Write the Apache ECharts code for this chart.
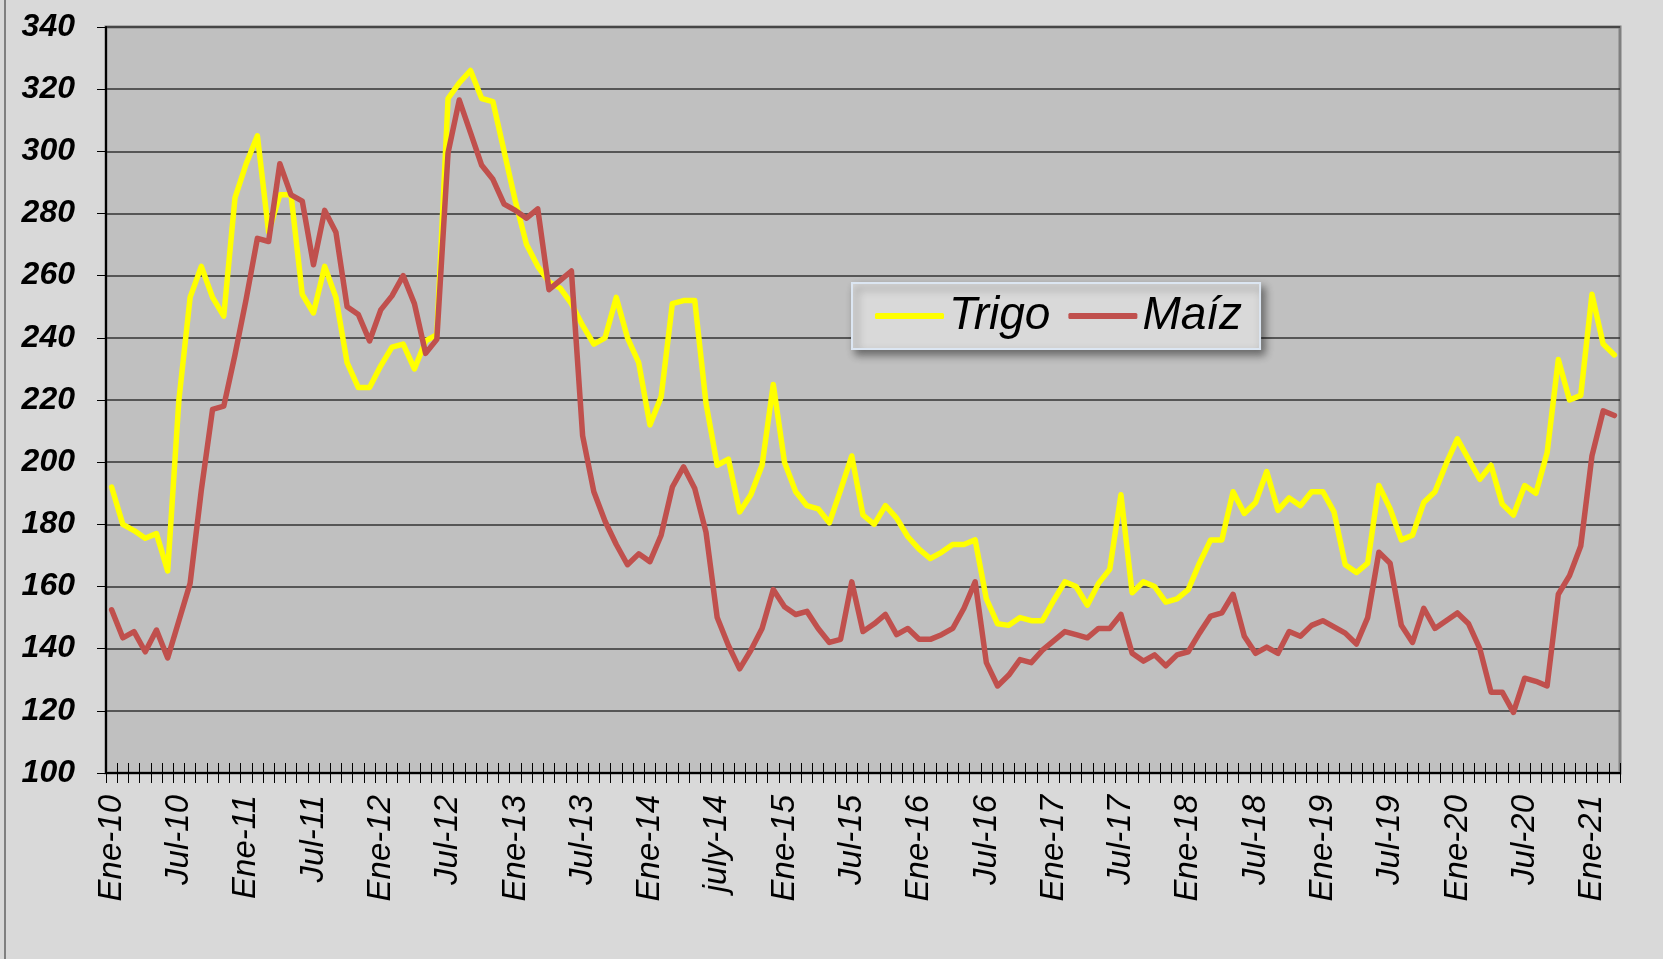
<!DOCTYPE html>
<html>
<head>
<meta charset="utf-8">
<title>Trigo y Maíz</title>
<script src="https://cdn.jsdelivr.net/npm/echarts@6/dist/echarts.min.js"></script>
<style>
  html, body { margin: 0; padding: 0; background: #d9d9d9; }
  #chart { width: 1663px; height: 959px; }
</style>
</head>
<body>
<div id="chart"></div>
<script>
// meses de Ene-10 a Mar-21 (solo se rotula uno de cada seis)
var categorias = [
  'Ene-10','Feb-10','Mar-10','Abr-10','May-10','Jun-10','Jul-10','Ago-10','Sep-10','Oct-10','Nov-10','Dic-10',
  'Ene-11','Feb-11','Mar-11','Abr-11','May-11','Jun-11','Jul-11','Ago-11','Sep-11','Oct-11','Nov-11','Dic-11',
  'Ene-12','Feb-12','Mar-12','Abr-12','May-12','Jun-12','Jul-12','Ago-12','Sep-12','Oct-12','Nov-12','Dic-12',
  'Ene-13','Feb-13','Mar-13','Abr-13','May-13','Jun-13','Jul-13','Ago-13','Sep-13','Oct-13','Nov-13','Dic-13',
  'Ene-14','Feb-14','Mar-14','Abr-14','May-14','Jun-14','july-14','Ago-14','Sep-14','Oct-14','Nov-14','Dic-14',
  'Ene-15','Feb-15','Mar-15','Abr-15','May-15','Jun-15','Jul-15','Ago-15','Sep-15','Oct-15','Nov-15','Dic-15',
  'Ene-16','Feb-16','Mar-16','Abr-16','May-16','Jun-16','Jul-16','Ago-16','Sep-16','Oct-16','Nov-16','Dic-16',
  'Ene-17','Feb-17','Mar-17','Abr-17','May-17','Jun-17','Jul-17','Ago-17','Sep-17','Oct-17','Nov-17','Dic-17',
  'Ene-18','Feb-18','Mar-18','Abr-18','May-18','Jun-18','Jul-18','Ago-18','Sep-18','Oct-18','Nov-18','Dic-18',
  'Ene-19','Feb-19','Mar-19','Abr-19','May-19','Jun-19','Jul-19','Ago-19','Sep-19','Oct-19','Nov-19','Dic-19',
  'Ene-20','Feb-20','Mar-20','Abr-20','May-20','Jun-20','Jul-20','Ago-20','Sep-20','Oct-20','Nov-20','Dic-20',
  'Ene-21','Feb-21','Mar-21'
]

var trigo = [
  192, 180, 178, 175.5, 177, 165, 220, 253, 263, 253, 247, 285,
  296, 305, 274, 286, 286, 254, 248, 263, 253, 232, 224, 224,
  231, 237, 238, 230, 239, 241, 317, 322, 326, 317, 316, 300,
  284, 270, 263, 258, 256, 251, 244, 238, 240, 253, 240, 232,
  212, 221, 251, 252, 252, 219, 199, 201, 184, 189.5, 199, 225,
  200, 190.5, 186, 185, 180.5, 191, 202, 183, 180, 186, 182, 176,
  172, 169, 171, 173.5, 173.5, 175, 156, 148, 147.5, 150, 149, 149,
  155.5, 161.5, 160, 154, 161, 165.5, 189.5, 158, 161.5, 160, 155, 156,
  159, 167.5, 175, 175, 190.5, 183.5, 187, 197, 184.5, 188.5, 186, 190.5,
  190.5, 184, 167, 164.5, 167.5, 192.5, 185, 175, 176.5, 187, 190.5, 199.5,
  207.5, 201, 194.5, 199, 186.5, 183, 192.5, 190, 203, 233, 220, 221.5,
  254, 238, 234.5
]

var maiz = [
  152.5, 143.5, 145.5, 139, 146, 137, 149, 161, 191, 217, 218, 234.5,
  252.5, 272, 271, 296, 286, 284, 263.5, 281, 274, 250, 247.5, 239,
  249, 253.5, 260, 251, 235, 239.5, 299.5, 316.5, 306, 295.5, 291, 283,
  281, 278.5, 281.5, 255.5, 258.5, 261.5, 208.5, 190.5, 181, 173.5, 167, 170.5,
  168, 176.5, 192, 198.5, 191.5, 177.5, 150, 141, 133.5, 139.5, 146.5, 159,
  153.5, 151, 152, 146.5, 142, 143, 161.5, 145.5, 148, 151, 144.5, 146.5,
  143, 143, 144.5, 146.5, 153, 161.5, 135.5, 128, 131.5, 136.5, 135.5, 139.5,
  142.5, 145.5, 144.5, 143.5, 146.5, 146.5, 151, 138.5, 136, 138, 134.5, 138,
  139, 145, 150.5, 151.5, 157.5, 144, 138.5, 140.5, 138.5, 145.5, 144, 147.5,
  149, 147, 145, 141.5, 150, 171, 167.5, 147.5, 142, 153, 146.5, 149,
  151.5, 148, 140, 126, 126, 119.5, 130.5, 129.5, 128, 157.5, 163.5, 173,
  202, 216.5, 215
]

var fuente = '"Liberation Sans", Arial, sans-serif'

var chart = echarts.init(document.getElementById('chart'))

var option = {
  animation: false,
  backgroundColor: '#d9d9d9',
  color: ['#ffff00', '#c0504d'],
  // borde izquierdo del área del gráfico
  graphic: [
    {
      type: 'line',
      shape: { x1: 5, y1: 0, x2: 5, y2: 959 },
      style: { stroke: '#808080', lineWidth: 2 }
    }
  ],
  grid: {
    left: 106,
    top: 27,
    right: 43,
    bottom: 186,
    show: true,
    backgroundColor: '#c0c0c0',
    borderColor: '#808080',
    borderWidth: 3
  },
  legend: {
    data: ['Trigo', 'Maíz'],
    left: 852,
    top: 283,
    padding: [10, 18, 10, 23],
    backgroundColor: '#d9d9d9',
    borderColor: '#dce6f2',
    borderWidth: 2,
    shadowColor: 'rgba(0,0,0,0.45)',
    shadowBlur: 8,
    shadowOffsetX: 4,
    shadowOffsetY: 5,
    icon: 'roundRect',
    itemWidth: 69,
    itemHeight: 6,
    itemGap: 18,
    textStyle: {
      fontFamily: fuente,
      fontSize: 46,
      fontStyle: 'italic',
      color: '#000'
    }
  },
  xAxis: [
    {
      type: 'category',
      data: categorias,
      boundaryGap: true,
      axisLine: { lineStyle: { color: '#000', width: 2 } },
      axisTick: { show: true, interval: 0, length: 10, lineStyle: { color: '#000' } },
      axisLabel: {
        interval: 5,
        rotate: 90,
        margin: 22,
        fontFamily: fuente,
        fontSize: 33,
        fontStyle: 'italic',
        color: '#000'
      },
      splitLine: { show: false }
    },
    {
      // marcas que cruzan el eje (parte interior)
      type: 'category',
      data: categorias,
      position: 'bottom',
      boundaryGap: true,
      axisLine: { show: false },
      axisTick: { show: true, inside: true, interval: 0, length: 10, lineStyle: { color: '#000' } },
      axisLabel: { show: false },
      splitLine: { show: false }
    }
  ],
  yAxis: {
    type: 'value',
    min: 100,
    max: 340,
    interval: 20,
    axisLine: { show: true, lineStyle: { color: '#000', width: 2 } },
    axisTick: { show: true, length: 9, lineStyle: { color: '#000' } },
    axisLabel: {
      margin: 31,
      fontFamily: fuente,
      fontSize: 32,
      fontWeight: 'bold',
      fontStyle: 'italic',
      color: '#000'
    },
    splitLine: { lineStyle: { color: '#333', width: 1.5 } }
  },
  series: [
    {
      name: 'Trigo',
      type: 'line',
      data: trigo,
      symbol: 'none',
      lineStyle: { width: 5.5, color: '#ffff00', join: 'round', cap: 'round' },
      itemStyle: { color: '#ffff00' }
    },
    {
      name: 'Maíz',
      type: 'line',
      data: maiz,
      symbol: 'none',
      lineStyle: { width: 5.5, color: '#c0504d', join: 'round', cap: 'round' },
      itemStyle: { color: '#c0504d' }
    }
  ]
}

chart.setOption(option)
</script>
</body>
</html>
